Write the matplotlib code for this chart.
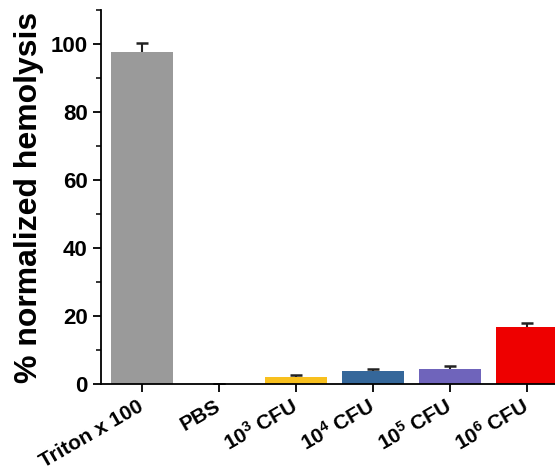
import numpy as np
import matplotlib
matplotlib.use('Agg')
import matplotlib.pyplot as plt
from matplotlib.ticker import MultipleLocator

groups = ['Triton x 100', 'PBS', '10$^{3}$ CFU', '10$^{4}$ CFU', '10$^{5}$ CFU', '10$^{6}$ CFU']
hemolysis = [97.6, 0.0, 2.0, 3.7, 4.5, 16.9]
errors = [2.6, 0.0, 0.7, 0.8, 0.7, 1.1]
colors = ['#9a9a9a', '#ffffff', '#f8c01e', '#35679a', '#6f64bb', '#ee0000']

plt.rcParams['font.family'] = 'Liberation Sans'
plt.rcParams['font.weight'] = 'bold'
plt.rcParams['mathtext.default'] = 'regular'

fig = plt.figure(figsize=(5.55, 4.76), dpi=100)
ax = fig.add_axes([101 / 555, 1 - 384 / 476, 1 - 101 / 555, (384 - 10) / 476])

x = np.arange(len(groups))
# error bars go under the bars so only the upper whisker shows
ax.errorbar(x, hemolysis, yerr=errors, fmt='none',
            ecolor='#222222', elinewidth=1.5, capsize=4, capthick=1.8, zorder=1)
ax.bar(x, hemolysis, width=0.8, color=colors, zorder=2)

ax.set_xlim(-(142 - 101) / 77, (555 - 142) / 77)
ax.set_ylim(0, 110)
ax.yaxis.set_major_locator(MultipleLocator(20))
ax.yaxis.set_minor_locator(MultipleLocator(10))
ax.set_xticks(x)
ax.set_xticklabels(groups, rotation=30, ha='right', va='center', rotation_mode='anchor',
                   fontsize=15, fontweight='bold')
for lab in ax.get_yticklabels():
    lab.set_fontweight('bold')
ax.tick_params(axis='y', which='major', labelsize=16, length=6, width=1.3, direction='out')
ax.tick_params(axis='y', which='minor', length=3.5, width=1.1, direction='out')
ax.tick_params(axis='x', which='major', length=6, width=1.3, direction='out', pad=9)

ax.spines['top'].set_visible(False)
ax.spines['right'].set_visible(False)
ax.spines['left'].set_linewidth(1.3)
ax.spines['bottom'].set_linewidth(1.3)
ax.set_ylabel('% normalized hemolysis', fontsize=23, fontweight='bold', labelpad=5)

fig.savefig('out.png', dpi=100)
